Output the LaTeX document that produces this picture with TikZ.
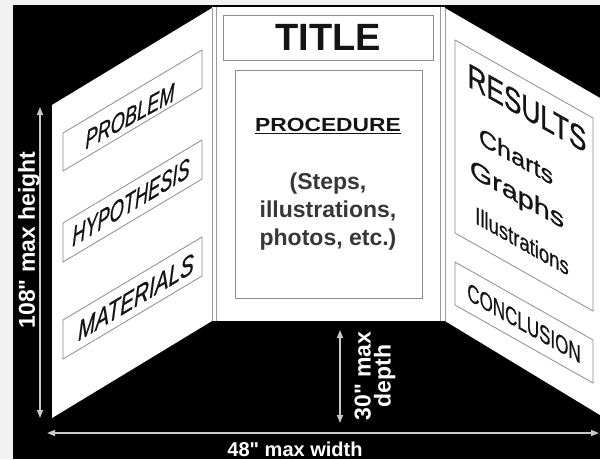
\documentclass[tikz,border=0pt]{standalone}
\usepackage{fontspec}
\setmainfont{Liberation Sans}[Ligatures=TeXOff]
\newfontfamily\panelfont{Liberation Sans}[Ligatures=TeXOff,FakeBold=0.8]
\usetikzlibrary{arrows.meta}
\definecolor{bgmargin}{HTML}{F2F2F2}
\definecolor{hinge}{HTML}{9A9A9A}
\definecolor{boxline}{HTML}{8C8C8C}
\definecolor{dimcol}{HTML}{C8C8C8}
\definecolor{ink}{HTML}{141414}
\newcommand{\fs}[1]{\fontsize{#1}{#1}\selectfont}
\begin{document}
\begin{tikzpicture}[x=1pt,y=-1pt,
  hingeline/.style={draw=hinge,line width=0.9pt},
  slot/.style={draw=boxline,line width=0.8pt},
  lbl/.style={inner sep=0pt,text=ink,transform shape,align=center},
  dimarrow/.style={draw=dimcol,line width=1.6pt,{Triangle[width=6pt,length=8pt]}-{Triangle[width=6pt,length=8pt]}},
  dimtext/.style={text=white,inner sep=0pt,align=center,transform shape}
]
\useasboundingbox (0,0) rectangle (600,459);
\fill[bgmargin] (0,0) rectangle (600,459);
\fill[black] (13,5) rectangle (600,459);
% panels
\fill[white] (52,105) -- (212,8) -- (212,321) -- (52,418) -- cycle;
\fill[white] (212,7) rectangle (445,321);
\fill[white] (445,8) -- (600,98) -- (600,415) -- (445,321) -- cycle;
\draw[hingeline] (212,8) -- (212,321);
\draw[hingeline] (216.5,7) -- (216.5,321);
\draw[hingeline] (440.5,7) -- (440.5,321);
\draw[hingeline] (445,8) -- (445,321);
% left panel slots
\draw[slot] (63,133) -- (202,50) -- (202,88) -- (63,171) -- cycle;
\draw[slot] (63,223) -- (202,140) -- (202,179) -- (63,262) -- cycle;
\draw[slot] (63,320) -- (202,237) -- (202,276) -- (63,359) -- cycle;
% right panel slots
\draw[slot] (455,40) -- (593,118) -- (593,311) -- (455,233) -- cycle;
\draw[slot] (455,262) -- (593,340) -- (593,383) -- (455,305) -- cycle;
% centre panel
\node[slot,minimum width=210pt,minimum height=45pt,inner sep=0pt,text=ink,font=\fs{38}\bfseries] (title) at (328,37.5) {TITLE};
\node[slot,minimum width=187pt,minimum height=228pt,inner sep=0pt] (procbox) at (328.5,184) {};
\node[lbl,font=\fs{19}\bfseries] (proc) at (328,126) {\scalebox{1.2}[1]{\underline{PROCEDURE}}};
\node[lbl,font=\fontsize{23}{28}\selectfont\bfseries,text=ink!85] (steps) at (328,212) {(Steps,\\illustrations,\\photos, etc.)};
% left panel labels
\begin{scope}[shift={(130,116)},yslant=0.55]
  \node[lbl,font=\panelfont\fs{26}\itshape] (problem) at (0,0) {\scalebox{0.7}[1]{PROBLEM}};
\end{scope}
\begin{scope}[shift={(131,202)},yslant=0.6]
  \node[lbl,font=\panelfont\fs{28}\itshape] (hypo) at (0,0) {\scalebox{0.65}[1]{HYPOTHESIS}};
\end{scope}
\begin{scope}[shift={(136,297)},yslant=0.6]
  \node[lbl,font=\panelfont\fs{28}\itshape] (mat) at (0,0) {\scalebox{0.74}[1]{MATERIALS}};
\end{scope}
% right panel labels
\begin{scope}[shift={(527,108)},yslant=-0.565]
  \node[lbl,font=\panelfont\fs{34}] (results) at (0,0) {\scalebox{0.77}[1]{RESULTS}};
\end{scope}
\begin{scope}[shift={(516,156)},yslant=-0.565]
  \node[lbl,font=\panelfont\fs{24}] (charts) at (0,0) {\scalebox{1.05}[1]{Charts}};
\end{scope}
\begin{scope}[shift={(517,196)},yslant=-0.565]
  \node[lbl,font=\panelfont\fs{25}] (graphs) at (0,0) {\scalebox{1.15}[1]{Graphs}};
\end{scope}
\begin{scope}[shift={(522,241)},yslant=-0.565]
  \node[lbl,font=\panelfont\fs{24}] (illus) at (0,0) {\scalebox{0.77}[1]{Illustrations}};
\end{scope}
\begin{scope}[shift={(524,323)},yslant=-0.565]
  \node[lbl,font=\panelfont\fs{25}] (concl) at (0,0) {\scalebox{0.68}[1]{CONCLUSION}};
\end{scope}
% dimensions
\coordinate (hTop) at (40,107);
\coordinate (hBot) at (40,418);
\draw[dimarrow] (hTop) -- (hBot);
\begin{scope}[shift={(29,240)},rotate=90]
  \node[dimtext,font=\fs{23}\bfseries] (hlabel) at (0,0) {108" max height};
\end{scope}
\coordinate (dTop) at (340,330);
\coordinate (dBot) at (340,423);
\draw[dimarrow] (dTop) -- (dBot);
\begin{scope}[shift={(375,376)},rotate=90]
  \node[dimtext,font=\fontsize{23}{20}\selectfont\bfseries] (dlabel) at (0,0) {30" max\\depth};
\end{scope}
\coordinate (wLeft) at (47,433);
\coordinate (wRight) at (599,433);
\draw[dimarrow] (wLeft) -- (wRight);
\node[dimtext,font=\fs{20}\bfseries] (wlabel) at (295,449) {48" max width};
\end{tikzpicture}
\end{document}
